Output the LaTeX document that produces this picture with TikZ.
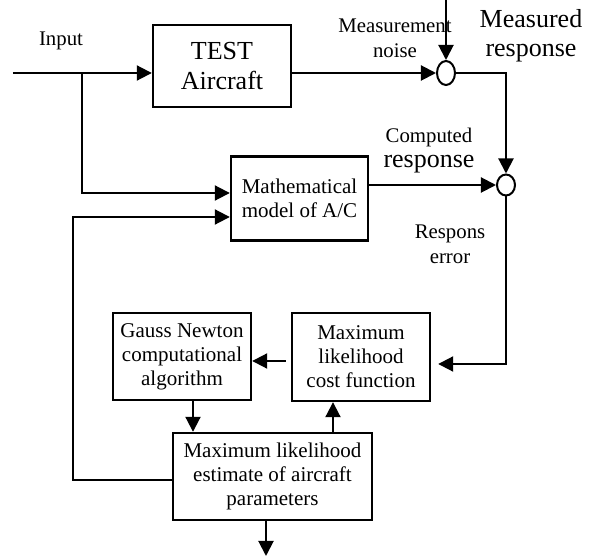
\documentclass[tikz,border=0pt]{standalone}
\usepackage{fontspec}
\setmainfont{Liberation Serif}
\usetikzlibrary{arrows.meta,positioning,calc,shapes}

\begin{document}
\begin{tikzpicture}[x=0.5pt,y=-0.5pt,
	block/.style={draw, line width=1.2pt, align=center, inner sep=0pt, font=\fontsize{10.5}{12}\selectfont},
	sum/.style={draw, ellipse, line width=1pt, inner sep=0pt, minimum width=9pt, minimum height=12pt},
	lbl/.style={align=center, inner sep=0pt, font=\fontsize{10.4}{12.5}\selectfont},
	big/.style={align=center, inner sep=0pt, font=\fontsize{13}{14.5}\selectfont},
	arr/.style={line width=1pt, -{Triangle[length=7.5pt,width=7.5pt]}}]

		\useasboundingbox (0,0) rectangle (591,556);

		\node[block, minimum width=69pt, minimum height=41pt, font=\fontsize{13}{15}\selectfont] (test) at (222,66) {TEST\\Aircraft};
		\node[block, minimum width=68.5pt, minimum height=42pt] (model) at (299.5,198.5) {Mathematical\\model of A/C};
		\node[block, minimum width=69pt, minimum height=43.5pt] (gauss) at (182,356.5) {Gauss Newton\\computational\\algorithm};
		\node[block, minimum width=69pt, minimum height=44pt] (cost) at (361,357) {Maximum\\likelihood\\cost function};
		\node[block, minimum width=99.5pt, minimum height=43.5pt] (est) at (272.5,476.5) {Maximum likelihood\\estimate of aircraft\\parameters};
		\node[sum] (sum1) at (446,73) {};
		\node[sum, minimum height=10.5pt] (sum2) at (506,185) {};

		\node[lbl] (input) at (61,41) {Input};
		\node[lbl] (noise) at (395,38) {Measurement\\noise};
		\node[big] (meas) at (531,36) {Measured\\response};
		\node[lbl] (comp) at (429,151) {Computed\\{\fontsize{13}{12.5}\selectfont response}};
		\node[lbl] (err) at (450,244) {Respons\\error};

		\coordinate (in) at (13,73);
		\coordinate (split) at (82,73);
		\coordinate (noisein) at (446,0);
		\coordinate (fb) at (73,217);
		\coordinate (out) at (266,556);

		\draw[arr] (in) -- (in -| test.west);
		\draw[arr] (test.east |- in) -- (sum1.west);
		\draw[arr] (noisein) -- (sum1.north);
		\draw[arr] (sum1.east) -| (sum2.north);
		\draw[arr] (split) |- (model.west |- 0,193);
		\draw[arr] (model.east |- sum2.west) -- (sum2.west);
		\draw[arr, shorten >=3.5pt] (sum2.south) |- (cost.east |- 0,364);
		\draw[arr, shorten <=2.5pt] (cost.west |- 0,361) -- (gauss.east |- 0,361);
		\draw[arr] (gauss.south -| 193,0) -- (est.north -| 193,0);
		\draw[arr] (est.north -| 333,0) -- (cost.south -| 333,0);
		\draw[arr] (est.west |- 0,480) -| (fb) -- (model.west |- fb);
		\draw[arr] (est.south -| out) -- (out);
\end{tikzpicture}
\end{document}
